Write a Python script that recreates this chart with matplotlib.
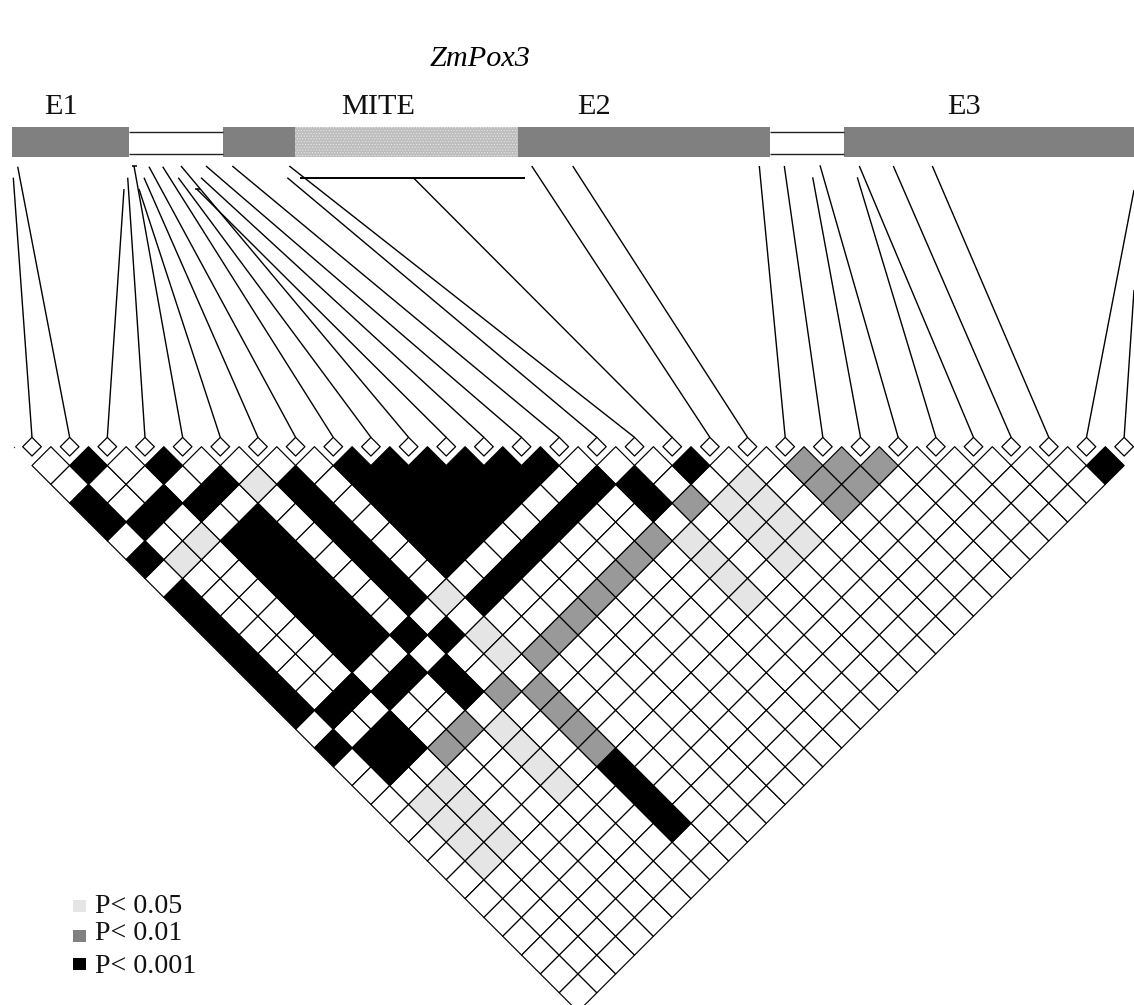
import matplotlib
matplotlib.use("Agg")
import matplotlib.pyplot as plt
from matplotlib.collections import PolyCollection
from matplotlib.patches import Rectangle

plt.rcParams['font.family'] = ['Liberation Serif', 'DejaVu Serif']
plt.rcParams['hatch.linewidth'] = 0.5

# LD significance per marker pair: row j, position i (i < j)
# . = n.s., l = P<0.05, m = P<0.01, h = P<0.001
ld_rows = [
    ".",
    ".h",
    "h..",
    "h..h",
    ".hh..",
    "h..hh.",
    ".ll..l.",
    "h..hh.h.",
    "h..hh.h.h",
    "h..hh.h.hh",
    "h..hh.h.hhh",
    "h..hh.h.hhhh",
    "h..hh.h.hhhhh",
    "h..hh.h.hhhhhh",
    ".hh..h.l.......",
    "h..hh.h.hhhhhhh.",
    ".hh..h.l.......h.",
    ".hh..h.l.......h.h",
    "...mm.m.mmmmmmm.m..",
    ".ll..l.m.......l.ll.",
    ".ll..l.m.......l.ll.m",
    ".ll..l.m.......l.ll.mm",
    ".ll..l.m.......l.ll.mmm",
    ".......h................",
    ".......h.................",
    ".......h..................",
    ".......h...................",
    "............................",
    "............................h",
]
level_colors = {".": "white", "l": "#e5e5e5", "m": "#999999", "h": "black"}

# where each marker's connector meets the gene model (x, y on the gene map)
site_x = [13.3, 17.7, 124, 127.7, 134, 139, 144, 149, 162.7, 178.3,
          181, 196.7, 201, 206, 232.3, 287.3, 289.3, 413.3, 531.7, 572.7,
          759.3, 784.3, 812.7, 820, 857.3, 859.3, 893.3, 932.3, 1134, 1134]
site_y = [177.7, 166.7, 189, 177.7, 166, 189, 177.7, 166.7, 166.7, 177.7,
          166, 189, 177.7, 166, 166, 177.7, 166, 177.7, 166, 166,
          166, 166, 177.3, 165.3, 177.3, 166, 166, 166, 190, 290]

# gene model segments (start, end)
exon_spans = [(12, 129), (223, 295), (518, 770), (844, 1134)]
intron_spans = [(129, 223), (770, 844)]
mite_span = (295, 518)
region_labels = ["E1", "MITE", "E2", "E3"]
region_label_x = [61, 378, 594, 964]

legend_labels = ["P< 0.05", "P< 0.01", "P< 0.001"]
legend_colors = ["#e5e5e5", "#808080", "black"]
legend_square_top = [900, 930, 957.7]
legend_baseline = [913, 940, 972.7]

# layout
x0, step, y0 = 32.0, 37.66, 446.7
half = step / 2
n_markers = len(site_x)
marker_half = 9.33

fig = plt.figure(figsize=(11.34, 10.05), dpi=100)
ax = fig.add_axes([0, 0, 1, 1])
ax.set_xlim(0, 1134)
ax.set_ylim(1005, 0)
ax.axis("off")

# title and labels
ax.text(480, 66, "ZmPox3", style="italic", fontsize=21.8, ha="center", va="baseline", color="black")
for lab, lx in zip(region_labels, region_label_x):
    ax.text(lx, 114, lab, fontsize=21.8, ha="center", va="baseline", color="#111111")

# gene model
bar_top, bar_h = 126.7, 30
for s, e in exon_spans:
    ax.add_patch(Rectangle((s, bar_top), e - s, bar_h, fc="#808080", ec="none"))
ax.add_patch(Rectangle((mite_span[0], bar_top), mite_span[1] - mite_span[0], bar_h,
                       fc="#bdbdbd", ec="#e8e8e8", hatch="......", lw=0))
for s, e in intron_spans:
    ax.plot([s, e], [132.3, 132.3], color="#222222", lw=1.0, solid_capstyle="butt")
    ax.plot([s, e], [154.3, 154.3], color="#222222", lw=1.0, solid_capstyle="butt")

# MITE bracket and small tick
ax.plot([300, 525], [177.7, 177.7], color="black", lw=1.4, solid_capstyle="butt")
ax.plot([131.5, 136.5], [166, 166], color="black", lw=1.1, solid_capstyle="butt")
ax.plot([195, 200], [189, 189], color="black", lw=1.1, solid_capstyle="butt")
ax.plot([13.7], [446.7], marker="s", ms=0.9, color="#333333", mew=0)

# connectors and marker diamonds
marker_x = [x0 + k * step for k in range(n_markers)]
for mx, sx, sy in zip(marker_x, site_x, site_y):
    ax.plot([mx, sx], [y0 - marker_half, sy], color="black", lw=1.0, solid_capstyle="butt")
markers = [[(mx - marker_half, y0), (mx, y0 - marker_half), (mx + marker_half, y0), (mx, y0 + marker_half)]
           for mx in marker_x]
ax.add_collection(PolyCollection(markers, facecolors="white", edgecolors="black", linewidths=0.9))

# LD triangle
polys, faces, edges = [], [], []
for order in [".", "l", "m", "h"]:
    for r, row in enumerate(ld_rows):
        j = r + 1
        for i, v in enumerate(row):
            if v != order:
                continue
            cx = x0 + (i + j) / 2 * step
            cy = y0 + (j - i) * half
            polys.append([(cx - half, cy), (cx, cy - half), (cx + half, cy), (cx, cy + half)])
            faces.append(level_colors[v])
            edges.append("black")
ax.add_collection(PolyCollection(polys, facecolors=faces, edgecolors=edges, linewidths=0.85))

# legend
for lab, col, top, base in zip(legend_labels, legend_colors, legend_square_top, legend_baseline):
    ax.add_patch(Rectangle((73, top), 12.7, 12.2, fc=col, ec="none"))
    ax.text(95, base, lab, fontsize=20.2, ha="left", va="baseline", color="#111111")

fig.savefig("out.png", dpi=100, facecolor="white")
